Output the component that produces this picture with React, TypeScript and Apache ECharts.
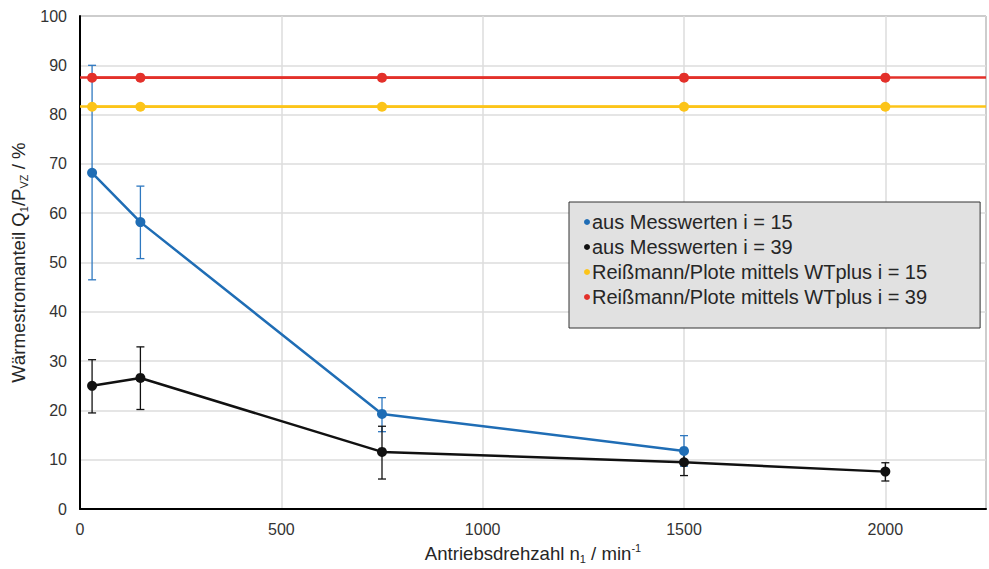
import React, { useEffect, useRef } from "react";
import * as echarts from "echarts";

const speeds = [30, 150, 750, 1500, 2000];
const blueSpeeds = [30, 150, 750, 1500];
const blueValues = [68.2, 58.2, 19.3, 11.8];
const blueLow = [46.5, 50.8, 15.7, 8.7];
const blueHigh = [90.0, 65.5, 22.6, 14.9];
const blackValues = [25.0, 26.6, 11.6, 9.5, 7.6];
const blackLow = [19.5, 20.2, 6.1, 6.8, 5.7];
const blackHigh = [30.3, 32.9, 16.8, 12.1, 9.4];
const wtplus15 = 81.6;
const wtplus39 = 87.5;
const names = [
  "aus Messwerten i = 15",
  "aus Messwerten i = 39",
  "Reißmann/Plote mittels WTplus i = 15",
  "Reißmann/Plote mittels WTplus i = 39",
];
const colors = ["#1f6db5", "#111111", "#fcc419", "#e3302a"];
const FONT = "'Liberation Sans', Arial, sans-serif";

function errorSeries(xs: number[], lo: number[], hi: number[], color: string) {
  return {
    type: "custom",
    z: 1,
    silent: true,
    data: xs.map((x, i) => [x, lo[i], hi[i]]),
    encode: { x: 0, y: [1, 2] },
    renderItem: (params: any, api: any) => {
      const x = api.value(0);
      const pLo = api.coord([x, api.value(1)]);
      const pHi = api.coord([x, api.value(2)]);
      const w = 4;
      const style = { stroke: color, lineWidth: 1.3 };
      return {
        type: "group",
        children: [
          { type: "line", shape: { x1: pLo[0], y1: pLo[1], x2: pHi[0], y2: pHi[1] }, style },
          { type: "line", shape: { x1: pLo[0] - w, y1: pLo[1], x2: pLo[0] + w, y2: pLo[1] }, style },
          { type: "line", shape: { x1: pHi[0] - w, y1: pHi[1], x2: pHi[0] + w, y2: pHi[1] }, style },
        ],
      };
    },
  };
}

export default function App() {
  const ref = useRef<HTMLDivElement>(null);
  useEffect(() => {
    if (!ref.current) return;
    const chart = echarts.init(ref.current, undefined, { renderer: "svg" });
    const mainText = { fontSize: 18.6, color: "#262626", fontFamily: FONT, lineHeight: 22 };
    const subText = { fontSize: 11, color: "#262626", fontFamily: FONT, lineHeight: 11, verticalAlign: "bottom" };
    const supText = { fontSize: 11, color: "#262626", fontFamily: FONT, lineHeight: 11, verticalAlign: "top" };
    chart.setOption({
      animation: false,
      textStyle: { fontFamily: FONT },
      grid: {
        left: 80,
        right: 2,
        top: 16,
        bottom: 55,
        show: true,
        borderColor: "#404040",
        borderWidth: 1,
      },
      legend: {
        data: names,
        orient: "vertical",
        left: 569,
        top: 202,
        icon: "circle",
        itemWidth: 6,
        itemHeight: 6,
        itemGap: 3,
        padding: [9, 53, 20, 15],
        backgroundColor: "#e1e1e1",
        borderColor: "#333",
        borderWidth: 1,
        textStyle: { fontSize: 20, color: "#262626", fontFamily: FONT, lineHeight: 22, padding: [0, 0, 0, -3] },
      },
      xAxis: {
        type: "value",
        min: 0,
        max: 2250,
        interval: 500,
        name: "{a|Antriebsdrehzahl n}{b|1}{a| / min}{c|-1}",
        nameLocation: "middle",
        nameGap: 32,
        nameTextStyle: { rich: { a: mainText, b: subText, c: supText } },
        axisLine: { lineStyle: { color: "#000", width: 2 } },
        axisTick: { show: false },
        axisLabel: {
          fontSize: 16,
          color: "#333",
          margin: 12,
          fontFamily: FONT,
          formatter: (v: number) => (v % 500 === 0 ? String(v) : ""),
        },
        splitLine: { show: true, lineStyle: { color: "#dcdcdc", width: 1.5 } },
      },
      yAxis: {
        type: "value",
        min: 0,
        max: 100,
        interval: 10,
        name: "{a|Wärmestromanteil Q}{b|1}{a|/P}{b|VZ}{a| / %}",
        nameLocation: "middle",
        nameGap: 50,
        nameTextStyle: { rich: { a: mainText, b: subText } },
        axisLine: { show: true, lineStyle: { color: "#000", width: 2 } },
        axisTick: { show: false },
        axisLabel: { fontSize: 16, color: "#333", margin: 13, fontFamily: FONT },
        splitLine: { show: true, lineStyle: { color: "#dcdcdc", width: 1.5 } },
      },
      series: [
        errorSeries(blueSpeeds, blueLow, blueHigh, "#2e78c0"),
        errorSeries(speeds, blackLow, blackHigh, "#111"),
        {
          name: names[0],
          type: "line",
          z: 3,
          data: blueSpeeds.map((x, i) => [x, blueValues[i]]),
          symbol: "circle",
          symbolSize: 10,
          itemStyle: { color: colors[0] },
          lineStyle: { color: colors[0], width: 2.5 },
        },
        {
          name: names[1],
          type: "line",
          z: 3,
          data: speeds.map((x, i) => [x, blackValues[i]]),
          symbol: "circle",
          symbolSize: 10,
          itemStyle: { color: colors[1] },
          lineStyle: { color: colors[1], width: 2.5 },
        },
        {
          name: names[2],
          type: "line",
          z: 3,
          data: speeds.map((x) => [x, wtplus15]),
          symbol: "circle",
          symbolSize: 10,
          itemStyle: { color: colors[2] },
          lineStyle: { color: colors[2], width: 2.5 },
          markLine: {
            silent: true,
            symbol: "none",
            label: { show: false },
            lineStyle: { color: colors[2], width: 2.5, type: "solid" },
            data: [{ yAxis: wtplus15 }],
          },
        },
        {
          name: names[3],
          type: "line",
          z: 3,
          data: speeds.map((x) => [x, wtplus39]),
          symbol: "circle",
          symbolSize: 10,
          itemStyle: { color: colors[3] },
          lineStyle: { color: colors[3], width: 2.5 },
          markLine: {
            silent: true,
            symbol: "none",
            label: { show: false },
            lineStyle: { color: colors[3], width: 2.5, type: "solid" },
            data: [{ yAxis: wtplus39 }],
          },
        },
      ],
    });
    return () => chart.dispose();
  }, []);
  return <div ref={ref} style={{ width: 989, height: 569, position: "absolute", left: 0, top: 0 }} />;
}
